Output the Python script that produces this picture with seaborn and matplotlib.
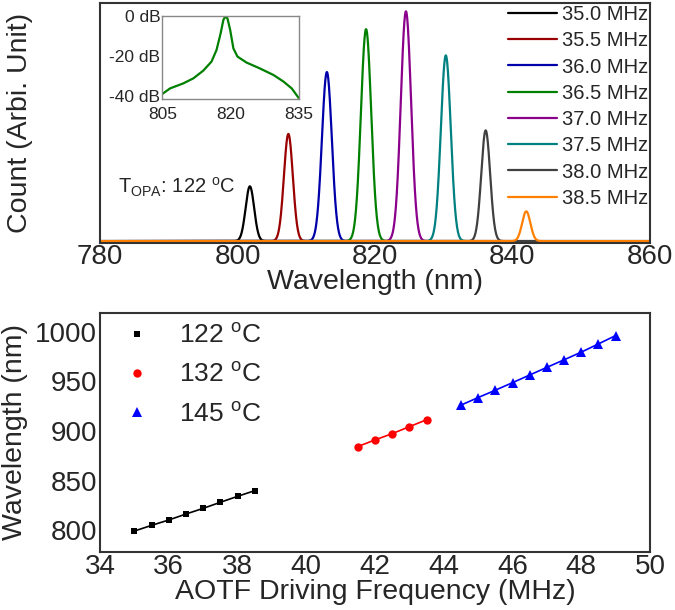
import numpy as np
import pandas as pd
import matplotlib
matplotlib.use("Agg")
import matplotlib.pyplot as plt
from matplotlib.lines import Line2D
import seaborn as sns

# ---------------- data ----------------
freq_labels = ["35.0 MHz", "35.5 MHz", "36.0 MHz", "36.5 MHz",
               "37.0 MHz", "37.5 MHz", "38.0 MHz", "38.5 MHz"]
peak_centers = [801.8, 807.4, 813.0, 818.7, 824.5, 830.3, 836.1, 842.0]
peak_heights = [0.23, 0.45, 0.71, 0.89, 0.965, 0.78, 0.465, 0.125]
peak_sigma = [0.62, 0.65, 0.72, 0.75, 0.75, 0.72, 0.65, 0.6]
peak_colors = ["#000000", "#990000", "#0000aa", "#008000",
               "#8b008b", "#008080", "#404040", "#ff8000"]

inset_wl = [805.0, 806.7, 809.6, 811.8, 814.0, 815.8, 816.9, 817.8, 818.4,
            818.8, 819.3, 819.9, 820.6, 821.5, 823.5, 826.4, 829.4, 831.6,
            833.4, 835.0]
inset_db = [-39.0, -36.2, -33.7, -31.2, -27.3, -22.8, -17.0, -8.7, -2.0,
            -0.3, -1.2, -7.0, -16.2, -20.3, -23.3, -26.2, -29.5, -32.8,
            -36.2, -41.2]

f122 = [35.0, 35.5, 36.0, 36.5, 37.0, 37.5, 38.0, 38.5]
w122 = [799.3, 805.0, 810.4, 816.4, 822.1, 828.2, 834.2, 839.9]
f132 = [41.5, 42.0, 42.5, 43.0, 43.5]
w132 = [884.3, 891.0, 897.3, 904.3, 911.3]
f145 = [44.5, 45.0, 45.5, 46.0, 46.5, 47.0, 47.5, 48.0, 48.5, 49.0]
w145 = [926.0, 933.6, 941.0, 948.6, 956.3, 964.0, 971.6, 979.3, 987.6, 996.0]
temp_labels = [r"122 $^{\mathregular{o}}$C", r"132 $^{\mathregular{o}}$C",
               r"145 $^{\mathregular{o}}$C"]

# ---------------- style ----------------
sns.set_theme(style="white")
plt.rcParams["font.family"] = ["Liberation Sans", "DejaVu Sans"]
plt.rcParams["mathtext.fontset"] = "custom"
plt.rcParams["mathtext.rm"] = "Liberation Sans"
plt.rcParams["axes.edgecolor"] = "#333333"
plt.rcParams["axes.linewidth"] = 1.5

W, H = 675, 610
fig = plt.figure(figsize=(W / 100, H / 100), dpi=100)

def fr(x0, y0, x1, y1):
    return [x0 / W, 1 - y1 / H, (x1 - x0) / W, (y1 - y0) / H]

TICK = 20
LAB = 20.5

# ---------------- top panel ----------------
ax1 = fig.add_axes(fr(100, 3, 650, 243))
wl = np.linspace(780, 860, 2401)
rows = []
for lab, c, h, s in zip(freq_labels, peak_centers, peak_heights, peak_sigma):
    y = h * np.exp(-0.5 * ((wl - c) / s) ** 2)
    rows.append(pd.DataFrame({"wl": wl, "count": y, "freq": lab}))
spec = pd.concat(rows, ignore_index=True)
sns.lineplot(data=spec, x="wl", y="count", hue="freq", hue_order=freq_labels,
             palette=peak_colors, linewidth=1.6, ax=ax1, legend=False,
             estimator=None, sort=False)
ax1.set_xlim(780, 860)
ax1.set_ylim(-0.008, 1.0)
ax1.set_xticks([780, 800, 820, 840, 860])
ax1.set_yticks([])
ax1.tick_params(axis="x", length=0, labelsize=TICK, pad=1)
ax1.set_xlabel("Wavelength (nm)", fontsize=LAB, labelpad=-1)
ax1.set_ylabel("Count (Arbi. Unit)", fontsize=LAB, labelpad=48)
handles = [Line2D([], [], color=c, lw=1.6) for c in peak_colors]
ax1.legend(handles, freq_labels, loc="upper right", frameon=False,
           fontsize=14.5, handlelength=2.4, handletextpad=0.25,
           labelspacing=0.36, borderaxespad=0.0, borderpad=0.1,
           bbox_to_anchor=(1.0, 1.0))
ax1.text(0.033, 0.185, r"T$_{\mathregular{OPA}}$: 122 $^{\mathregular{o}}$C",
         transform=ax1.transAxes, fontsize=14.5, va="bottom")

# inset
axi = fig.add_axes(fr(162.3, 16, 299, 99))
ins = pd.DataFrame({"wl": inset_wl, "db": inset_db})
sns.lineplot(data=ins, x="wl", y="db", color="#008000", linewidth=1.6,
             ax=axi, estimator=None, sort=False)
axi.set_xlim(805, 835)
axi.set_ylim(-41.5, 0)
axi.set_xticks([805, 820, 835])
axi.set_yticks([0, -20, -40])
axi.set_yticklabels(["0 dB", "-20 dB", "-40 dB"])
axi.tick_params(axis="y", length=0, labelsize=12.5, pad=1.5)
axi.tick_params(axis="x", length=0, labelsize=12.5, pad=6)
axi.set_xlabel("")
axi.set_ylabel("")
for sp in axi.spines.values():
    sp.set_color("#888888")
    sp.set_linewidth(1.0)

# ---------------- bottom panel ----------------
ax2 = fig.add_axes(fr(100, 312.7, 650, 551.7))
series = [(f122, w122, "black", "s", 5.0), (f132, w132, "red", "o", 6.0),
          (f145, w145, "blue", "^", 6.5)]
for (fx, wy, col, mk, ms) in series:
    d = pd.DataFrame({"f": fx, "w": wy})
    sns.lineplot(data=d, x="f", y="w", color=col, marker=mk, markersize=ms,
                 markeredgewidth=0, linewidth=1.2, ax=ax2, estimator=None)
ax2.set_xlim(34, 50)
ax2.set_ylim(778.5, 1019)
ax2.set_xticks(range(34, 51, 2))
ax2.set_yticks([800, 850, 900, 950, 1000])
ax2.tick_params(length=0, labelsize=TICK, pad=2)
ax2.set_xlabel("AOTF Driving Frequency (MHz)", fontsize=LAB, labelpad=-1)
ax2.set_ylabel("Wavelength (nm)", fontsize=LAB, labelpad=5)
h2 = [Line2D([], [], color=c, marker=m, linestyle="none", markersize=ms,
             markeredgewidth=0) for (_, _, c, m, ms) in series]
ax2.legend(h2, temp_labels, loc="upper left", frameon=False, fontsize=19,
           handletextpad=0.6, labelspacing=0.55, borderaxespad=0.0,
           bbox_to_anchor=(0.0, 1.0))

fig.savefig("out.png", dpi=100)
